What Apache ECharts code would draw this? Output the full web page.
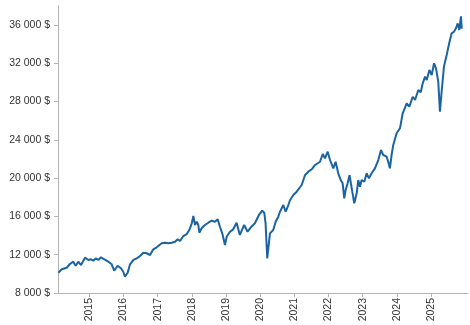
<!DOCTYPE html>
<html><head><meta charset="utf-8">
<script src="https://cdn.jsdelivr.net/npm/echarts@6/dist/echarts.min.js"></script>
<style>html,body{margin:0;padding:0;background:#fff}#c{width:470px;height:325px}</style>
</head><body><div id="c"></div>
<script>
const dates = ['2014-02-04','2014-03-12','2014-05-04','2014-06-08','2014-07-13','2014-08-08','2014-09-05','2014-10-04','2014-11-16','2014-12-21',
'2015-01-19','2015-02-13','2015-03-10','2015-04-07','2015-05-06','2015-06-10','2015-07-23','2015-08-28','2015-09-24','2015-10-30','2015-12-05','2015-12-30',
'2016-01-17','2016-02-15','2016-03-11','2016-04-16','2016-05-22','2016-06-26','2016-07-31','2016-09-05','2016-10-11','2016-11-15','2016-12-21',
'2017-02-13','2017-03-20','2017-04-25','2017-05-31','2017-07-05','2017-08-03','2017-08-28','2017-10-02','2017-11-07','2017-12-05','2017-12-31',
'2018-01-17','2018-02-04','2018-02-22','2018-03-11','2018-03-22','2018-04-16','2018-05-21','2018-06-26','2018-08-01','2018-09-05','2018-10-04','2018-10-28','2018-11-22','2018-12-21',
'2019-01-08','2019-02-12','2019-03-19','2019-04-24','2019-05-29','2019-07-14','2019-08-19','2019-09-24','2019-11-06','2019-12-19',
'2020-01-23','2020-02-14','2020-02-28','2020-03-17','2020-04-15','2020-05-20','2020-06-15','2020-07-13','2020-07-31','2020-09-05','2020-09-30','2020-10-22','2020-11-16','2020-12-21',
'2021-01-26','2021-02-12','2021-03-20','2021-04-25','2021-05-30','2021-07-05','2021-08-10','2021-08-28','2021-10-02','2021-10-31','2021-11-24','2021-12-23',
'2022-01-17','2022-02-21','2022-03-18','2022-04-15','2022-05-11','2022-06-01','2022-06-18','2022-07-03','2022-07-24','2022-08-14','2022-08-28','2022-09-12','2022-10-03','2022-10-29','2022-11-15','2022-12-03','2022-12-21',
'2023-01-18','2023-02-13','2023-03-09','2023-04-07','2023-05-12','2023-06-17','2023-07-16','2023-08-09','2023-09-14','2023-10-01','2023-10-19','2023-11-06','2023-11-24','2023-12-30',
'2024-02-04','2024-03-04','2024-04-16','2024-05-14','2024-06-19','2024-07-14','2024-08-18','2024-09-13','2024-10-04','2024-10-29','2024-11-16','2024-12-14',
'2025-01-08','2025-02-02','2025-02-23','2025-03-19','2025-04-06','2025-04-24','2025-05-19','2025-06-17','2025-07-14','2025-08-09','2025-09-03','2025-09-24','2025-10-13','2025-10-30','2025-11-17','2025-11-25'];
const values = [10120,10475,10640,11030,11270,10850,11270,10920,11690,11450,
11520,11370,11620,11450,11730,11520,11270,11000,10330,10850,10580,10220,
9700,10120,11000,11450,11620,11860,12210,12150,11970,12560,12770,
13190,13250,13190,13250,13360,13610,13430,13950,14160,14580,15280,
16040,15100,15450,15100,14300,14760,15100,15340,15550,15450,15700,14920,14230,13010,
13880,14400,14650,15340,14060,15100,14400,14860,15280,16150,
16600,16390,15280,11620,14230,14580,15450,15970,16490,17190,16490,17010,17710,18230,
18580,18410,19280,20320,20670,20920,21370,21190,21710,22520,22070,22760,
21890,21020,21710,20500,19800,19460,17890,18760,19460,20320,19460,18580,17370,18410,19800,19100,19800,
19620,20500,19980,20500,21020,21890,22930,22410,22240,21710,21020,22410,23460,24680,
25200,26770,27810,27460,28500,28160,29200,28960,29900,30590,30250,31290,
30770,31990,31460,30070,26940,29020,31640,32850,34080,35120,35290,35640,36160,35470,36900,35600];
const yTicks = [8000,12000,16000,20000,24000,28000,32000,36000];
const xTickYears = ['2015','2016','2017','2018','2019','2020','2021','2022','2023','2024','2025'];

const ts = s => Date.UTC(+s.slice(0,4), +(s.slice(5,7)||1)-1, +(s.slice(8,10)||1));
const xTickVals = xTickYears.map(y => ts(y + '-01-01'));
const fmtMoney = v => String(v).replace(/\B(?=(\d{3})+(?!\d))/g, ' ') + ' $';
const chart = echarts.init(document.getElementById('c'), null, {renderer:'canvas'});
chart.setOption({
  animation:false,
  grid:{left:58,right:2,top:5.75,bottom:32,containLabel:false},
  xAxis:{
    type:'value',
    min:ts('2014-01-31'), max:ts('2026-01-31'),
    axisLine:{show:true,lineStyle:{color:'#b3b3b3',width:1}},
    axisTick:{show:true,length:4,lineStyle:{color:'#b3b3b3'},customValues:xTickVals},
    axisLabel:{rotate:90,margin:5,color:'#333',fontFamily:'Liberation Sans, Arial',fontSize:10.5,
      customValues:xTickVals,
      formatter:v=>String(new Date(v).getUTCFullYear())},
    splitLine:{show:false}
  },
  yAxis:{
    type:'value',min:8000,max:38000,
    axisLine:{show:true,lineStyle:{color:'#b3b3b3',width:1}},
    axisTick:{show:true,length:4,lineStyle:{color:'#b3b3b3'},customValues:yTicks},
    axisLabel:{margin:8,color:'#333',fontFamily:'Liberation Sans, Arial',fontSize:10.5,customValues:yTicks,formatter:fmtMoney},
    splitLine:{show:false}
  },
  series:[{type:'line',data:dates.map((d,i)=>[ts(d),values[i]]),showSymbol:false,symbol:'none',
    lineStyle:{color:'#1b64a2',width:2},itemStyle:{color:'#1b64a2'}}]
});
</script></body></html>
